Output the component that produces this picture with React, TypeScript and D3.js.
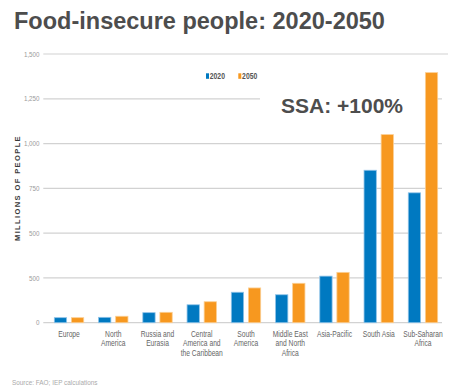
import React from "react";
import * as d3 from "d3";

const categories = [
  "Europe",
  "North America",
  "Russia and Eurasia",
  "Central America and the Caribbean",
  "South America",
  "Middle East and North Africa",
  "Asia-Pacific",
  "South Asia",
  "Sub-Saharan Africa",
];
const categoryLines = [
  ["Europe"],
  ["North", "America"],
  ["Russia and", "Eurasia"],
  ["Central", "America and", "the Caribbean"],
  ["South", "America"],
  ["Middle East", "and North", "Africa"],
  ["Asia-Pacific"],
  ["South Asia"],
  ["Sub-Saharan", "Africa"],
];
const series = ["2020", "2050"];
const values2020 = [28, 30, 56, 100, 170, 156, 260, 851, 725];
const values2050 = [28, 36, 58, 117, 194, 220, 281, 1050, 1396];
const tickValues = [0, 250, 500, 750, 1000, 1250, 1500];
const tickLabels = ["0", "500", "500", "750", "1,000", "1,250", "1,500"];

const colors = ["#0079C1", "#F7981F"];
const strokes = ["#8fc3e8", "#fbcf94"];

const sans = "'Liberation Sans', Arial, sans-serif";
const SX = 0.8;

function NText(props: {
  x: number;
  y: number;
  anchor?: "start" | "middle" | "end";
  size: number;
  fill: string;
  weight?: string;
  lines: string[];
  lh?: number;
}) {
  const { x, y, anchor = "start", size, fill, weight = "normal", lines, lh = 10 } = props;
  return (
    <g transform={`translate(${x},${y}) scale(${SX},1)`}>
      <text textAnchor={anchor} fontFamily={sans} fontSize={size} fill={fill} fontWeight={weight}>
        {lines.map((ln, i) => (
          <tspan key={i} x={0} dy={i === 0 ? 0 : lh}>
            {ln}
          </tspan>
        ))}
      </text>
    </g>
  );
}

export default function App() {
  const W = 449;
  const H = 389;
  const x0 = d3.scaleBand<string>().domain(categories).range([46.9, 445.1]).padding(0);
  const groupW = 29.4;
  const off = (x0.bandwidth() - groupW) / 2;
  const x1 = d3.scaleBand<string>().domain(series).range([0, groupW]).paddingInner(0.28).paddingOuter(0);
  const y = d3.scaleLinear().domain([0, 1500]).range([322.7, 54]);
  const data = [values2020, values2050];

  return (
    <svg width={W} height={H} style={{ position: "absolute", left: 0, top: 0, background: "#fff" }}>
      <rect x={0} y={0} width={W} height={H} fill="#fff" />
      <text x={14} y={29} fontFamily={sans} fontWeight="bold" fontSize={23.5} fill="#4d4d4d">
        Food-insecure people: 2020-2050
      </text>

      {tickValues.map((t, i) => (
        <line
          key={"g" + i}
          x1={43.3}
          x2={t === 1500 ? 448 : 442}
          y1={y(t)}
          y2={y(t)}
          stroke="#d2d2d2"
          strokeWidth={1.2}
        />
      ))}
      {tickValues.map((t, i) => (
        <NText key={"t" + i} x={39.5} y={y(t) + 2.7} anchor="end" size={7.8} fill="#9a9a9a" lines={[tickLabels[i]]} />
      ))}

      <text
        transform={`translate(19.8,188) rotate(-90)`}
        textAnchor="middle"
        fontFamily={sans}
        fontWeight="bold"
        fontSize={7.5}
        letterSpacing={1.4}
        fill="#3a3a3a"
      >
        MILLIONS OF PEOPLE
      </text>

      {series.map((s, i) => {
        const lx = i === 0 ? 206 : 238.3;
        return (
          <g key={"l" + i}>
            <rect x={lx} y={73.3} width={3} height={5.5} fill={colors[i]} />
            <NText x={lx + 3.8} y={79} size={8.5} weight="bold" fill="#555" lines={[s]} />
          </g>
        );
      })}

      <rect x={260} y={88} width={165} height={30} fill="#fff" />
      <text x={281} y={113} fontFamily={sans} fontWeight="bold" fontSize={21} fill="#4d4d4d">
        SSA: +100%
      </text>

      {categories.map((c, ci) => (
        <g key={"b" + ci} transform={`translate(${(x0(c) as number) + off},0)`}>
          {series.map((s, si) => {
            const v = data[si][ci];
            return (
              <rect
                key={s}
                x={x1(s) as number}
                y={y(v)}
                width={x1.bandwidth()}
                height={y(0) - y(v)}
                fill={colors[si]}
                stroke={strokes[si]}
                strokeWidth={0.8}
              />
            );
          })}
        </g>
      ))}

      {categories.map((c, ci) => (
        <NText
          key={"c" + ci}
          x={(x0(c) as number) + x0.bandwidth() / 2}
          y={336.5}
          anchor="middle"
          size={8.4}
          fill="#666"
          lines={categoryLines[ci]}
        />
      ))}

      <NText x={12} y={385} size={8} fill="#aaa" lines={["Source: FAO; IEP calculations"]} />
    </svg>
  );
}
